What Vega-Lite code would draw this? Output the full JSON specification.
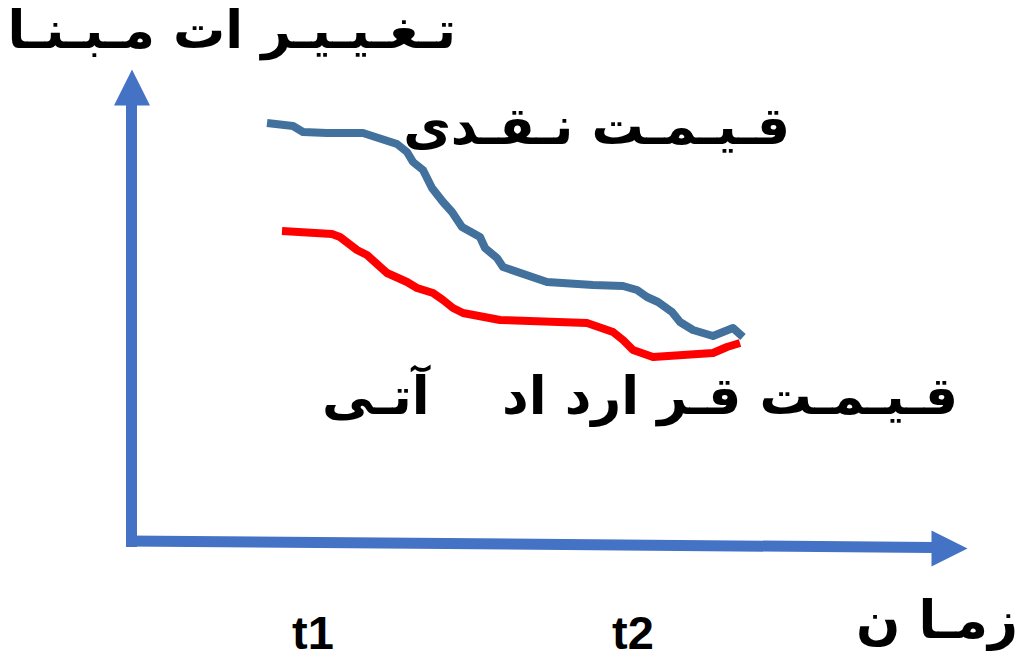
{
  "$schema": "https://vega.github.io/schema/vega-lite/v6.json",
  "width": 1025,
  "height": 659,
  "autosize": {"type": "fit", "contains": "padding"},
  "padding": 0,
  "background": "white",
  "config": {"view": {"stroke": null}},
  "datasets": {
    "curves": [
      {"series": "spot", "i": 1, "t": 267, "p": 123},
      {"series": "spot", "i": 2, "t": 293, "p": 126},
      {"series": "spot", "i": 3, "t": 303, "p": 132},
      {"series": "spot", "i": 4, "t": 327, "p": 133},
      {"series": "spot", "i": 5, "t": 363, "p": 133},
      {"series": "spot", "i": 6, "t": 397, "p": 144},
      {"series": "spot", "i": 7, "t": 407, "p": 152},
      {"series": "spot", "i": 8, "t": 413, "p": 162},
      {"series": "spot", "i": 9, "t": 423, "p": 170},
      {"series": "spot", "i": 10, "t": 432, "p": 188},
      {"series": "spot", "i": 11, "t": 443, "p": 202},
      {"series": "spot", "i": 12, "t": 452, "p": 212},
      {"series": "spot", "i": 13, "t": 462, "p": 227},
      {"series": "spot", "i": 14, "t": 480, "p": 237},
      {"series": "spot", "i": 15, "t": 485, "p": 248},
      {"series": "spot", "i": 16, "t": 497, "p": 258},
      {"series": "spot", "i": 17, "t": 503, "p": 267},
      {"series": "spot", "i": 18, "t": 547, "p": 282},
      {"series": "spot", "i": 19, "t": 593, "p": 285},
      {"series": "spot", "i": 20, "t": 623, "p": 286},
      {"series": "spot", "i": 21, "t": 637, "p": 290},
      {"series": "spot", "i": 22, "t": 647, "p": 297},
      {"series": "spot", "i": 23, "t": 658, "p": 302},
      {"series": "spot", "i": 24, "t": 672, "p": 312},
      {"series": "spot", "i": 25, "t": 680, "p": 322},
      {"series": "spot", "i": 26, "t": 693, "p": 330},
      {"series": "spot", "i": 27, "t": 713, "p": 336},
      {"series": "spot", "i": 28, "t": 733, "p": 328},
      {"series": "spot", "i": 29, "t": 743, "p": 337},
      {"series": "futures", "i": 1, "t": 282, "p": 231},
      {"series": "futures", "i": 2, "t": 332, "p": 234},
      {"series": "futures", "i": 3, "t": 340, "p": 237},
      {"series": "futures", "i": 4, "t": 357, "p": 250},
      {"series": "futures", "i": 5, "t": 367, "p": 255},
      {"series": "futures", "i": 6, "t": 387, "p": 273},
      {"series": "futures", "i": 7, "t": 407, "p": 282},
      {"series": "futures", "i": 8, "t": 417, "p": 288},
      {"series": "futures", "i": 9, "t": 433, "p": 293},
      {"series": "futures", "i": 10, "t": 443, "p": 300},
      {"series": "futures", "i": 11, "t": 453, "p": 308},
      {"series": "futures", "i": 12, "t": 463, "p": 313},
      {"series": "futures", "i": 13, "t": 500, "p": 320},
      {"series": "futures", "i": 14, "t": 587, "p": 323},
      {"series": "futures", "i": 15, "t": 613, "p": 332},
      {"series": "futures", "i": 16, "t": 623, "p": 340},
      {"series": "futures", "i": 17, "t": 633, "p": 350},
      {"series": "futures", "i": 18, "t": 653, "p": 357},
      {"series": "futures", "i": 19, "t": 713, "p": 353},
      {"series": "futures", "i": 20, "t": 727, "p": 347},
      {"series": "futures", "i": 21, "t": 740, "p": 343}
    ],
    "axesShafts": [
      {"axis": "vertical", "t": 131.5, "p": 547, "t2": 131.5, "p2": 104},
      {"axis": "horizontal", "t": 126, "p": 541, "t2": 933, "p2": 547.5}
    ],
    "persianLabels": [
      {"label": "تـغـیـیـر ات مـبـنـا", "t": 456, "p": 48},
      {"label": "قـیـمـت نـقـدی", "t": 790, "p": 144},
      {"label": "قـیـمـت قـر ارد اد\u00a0\u00a0\u00a0\u00a0آتـی", "t": 958, "p": 414},
      {"label": "زمـا ن", "t": 1018, "p": 638}
    ],
    "timeLabels": [
      {"label": "t1", "t": 292, "p": 649},
      {"label": "t2", "t": 612, "p": 649}
    ]
  },
  "encoding": {
    "x": {"field": "t", "type": "quantitative", "axis": null, "scale": {"domain": [0, 1025], "nice": false, "zero": false}},
    "y": {"field": "p", "type": "quantitative", "axis": null, "scale": {"domain": [0, 659], "nice": false, "zero": false, "reverse": true}}
  },
  "layer": [
    {
      "data": {"name": "axesShafts"},
      "mark": {"type": "rule", "color": "#4472C4", "strokeWidth": 11, "strokeCap": "butt"},
      "encoding": {
        "x2": {"field": "t2"},
        "y2": {"field": "p2"}
      }
    },
    {
      "data": {"values": [{"t": 132, "p": 87.5}]},
      "mark": {"type": "point", "shape": "M0,-1L1,1L-1,1Z", "filled": true, "color": "#4472C4", "opacity": 1, "size": 1296, "strokeWidth": 0}
    },
    {
      "data": {"values": [{"t": 949.5, "p": 548.5}]},
      "mark": {"type": "point", "shape": "M1,0L-1,-1L-1,1Z", "filled": true, "color": "#4472C4", "opacity": 1, "size": 1296, "strokeWidth": 0}
    },
    {
      "data": {"name": "curves"},
      "mark": {"type": "line", "strokeWidth": 8, "strokeJoin": "round", "strokeCap": "butt"},
      "encoding": {
        "order": {"field": "i", "type": "quantitative"},
        "color": {"field": "series", "type": "nominal", "legend": null, "scale": {"domain": ["spot", "futures"], "range": ["#41719C", "#FF0000"]}}
      }
    },
    {
      "data": {"name": "persianLabels"},
      "mark": {"type": "text", "align": "right", "baseline": "alphabetic", "font": "DejaVu Sans", "fontWeight": "bold", "fontSize": 52, "color": "black"},
      "encoding": {"text": {"field": "label"}}
    },
    {
      "data": {"name": "timeLabels"},
      "mark": {"type": "text", "align": "left", "baseline": "alphabetic", "font": "Liberation Sans", "fontWeight": "bold", "fontSize": 47, "color": "black"},
      "encoding": {"text": {"field": "label"}}
    }
  ]
}
